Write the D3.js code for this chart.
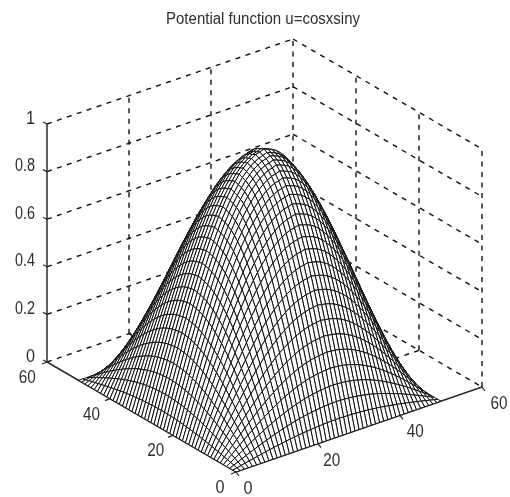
<!DOCTYPE html>
<html>
<head>
<meta charset="utf-8">
<script src="https://cdn.jsdelivr.net/npm/d3@7"></script>
<style>
html,body{margin:0;padding:0;background:#fff;}
svg{display:block;filter:blur(0.5px);}
text{font-family:"Liberation Sans",Arial,sans-serif;fill:#2e2e2e;}
</style>
</head>
<body>
<svg id="chart" width="510" height="497"></svg>
<script>
const titleText = "Potential function u=cosxsiny";
const meshX = [0,1,2,3,4,5,6,7,8,9,10,11,12,13,14,15,16,17,18,19,20,21,22,23,24,25,26,27,28,29,30,31,32,33,34,35,36,37,38,39,40,41,42,43,44,45,46,47,48,49,50];
const meshY = meshX;
// Height profiles along each mesh direction, read from the surface's silhouette.
const profileX = [0,.060,.121,.180,.239,.297,.355,.410,.465,.517,.568,.616,.663,.707,.749,.788,.823,.856,.885,.911,.935,.954,.971,.983,.993,.998,1.005,.998,.991,.981,.966,.947,.924,.897,.866,.831,.793,.752,.707,.659,.609,.556,.500,.442,.383,.321,.259,.195,.131,.065,0];
const profileY = [0,.063,.125,.187,.249,.309,.368,.426,.482,.536,.588,.637,.685,.729,.771,.809,.844,.876,.905,.930,.951,.969,.982,.992,.998,1.005,.998,.992,.982,.969,.951,.930,.905,.876,.844,.809,.771,.729,.685,.637,.588,.536,.482,.426,.368,.309,.249,.187,.125,.063,0];
const xTicks = [0,20,40,60];
const yTicks = [0,20,40,60];
const zTicks = [0,0.2,0.4,0.6,0.8,1];

const svg = d3.select("#chart");

// Oblique axes: each scale gives one axis's on-screen displacement.
const xPx = d3.scaleLinear().domain([0,60]).range([0,246]);
const xPy = d3.scaleLinear().domain([0,60]).range([0,-85]);
const yPx = d3.scaleLinear().domain([0,60]).range([0,-189]);
const yPy = d3.scaleLinear().domain([0,60]).range([0,-110]);
const zPy = d3.scaleLinear().domain([0,1]).range([0,-238]);
const ox = 236, oy = 472;
const proj = (x,y,z) => [ox + xPx(x) + yPx(y), oy + xPy(x) + yPy(y) + zPy(z)];
const line = d3.line();

// Dashed back walls and floor
const grid = svg.append("g").attr("fill","none").attr("stroke","#111")
  .attr("stroke-width",1.4).attr("stroke-dasharray","5 5.5");
const gridLines = [];
zTicks.forEach(z => {
  gridLines.push([proj(0,60,z),proj(60,60,z)]);
  gridLines.push([proj(60,60,z),proj(60,0,z)]);
});
xTicks.slice(1).forEach(x => gridLines.push([proj(x,60,0),proj(x,60,1)]));
yTicks.slice(0,3).forEach(y => gridLines.push([proj(60,y,0),proj(60,y,1)]));
xTicks.slice(1,3).forEach(x => gridLines.push([proj(x,60,0),proj(x,0,0)]));
yTicks.slice(1,3).forEach(y => gridLines.push([proj(60,y,0),proj(0,y,0)]));
grid.selectAll("path").data(gridLines).join("path").attr("d",d=>line(d));

// Solid axes
const axes = svg.append("g").attr("fill","none").attr("stroke","#2a2a2a").attr("stroke-width",1.5);
axes.append("path").attr("d",line([proj(0,60,0),proj(0,60,1)]));
axes.append("path").attr("d",line([proj(0,60,0),proj(0,0,0),proj(60,0,0)]));

// Surface, painted from the far corner forward
const cells = [];
for (let i=meshX.length-2;i>=0;i--) for (let j=meshY.length-2;j>=0;j--) cells.push([i,j]);
cells.sort((a,b)=>(b[0]+b[1])-(a[0]+a[1]));
const u = (i,j) => profileX[i]*profileY[j];
svg.append("g").attr("fill","#fff").attr("stroke","#111").attr("stroke-width",1)
  .selectAll("path").data(cells).join("path")
  .attr("d",([i,j]) => line([
    proj(meshX[i],meshY[j],u(i,j)),
    proj(meshX[i+1],meshY[j],u(i+1,j)),
    proj(meshX[i+1],meshY[j+1],u(i+1,j+1)),
    proj(meshX[i],meshY[j+1],u(i,j+1))
  ])+"Z");

// Ticks
const ticks = svg.append("g").attr("stroke","#2a2a2a").attr("stroke-width",1.2).attr("fill","none");
const tickSegs = [];
zTicks.forEach(z => { const p=proj(0,60,z); tickSegs.push([[p[0]-4,p[1]-2],p]); });
xTicks.forEach(x => { const p=proj(x,0,0); tickSegs.push([p,[p[0]+3,p[1]+4]]); });
yTicks.forEach(y => { const p=proj(0,y,0); tickSegs.push([p,[p[0]-5,p[1]+2]]); });
ticks.selectAll("path").data(tickSegs).join("path").attr("d",d=>line(d));

// Text: glyphs are condensed in the reference, so widths are set explicitly
function label(g, str, x, y, w, size, anchor){
  g.append("text").attr("x",x).attr("y",y).attr("font-size",size)
    .attr("text-anchor",anchor).attr("textLength",w).attr("lengthAdjust","spacingAndGlyphs").text(str);
}
const labels = svg.append("g");
const dw = s => s.length===1 ? 9 : (s.includes(".") ? 20 : 17);
zTicks.forEach(z => {
  const p = proj(0,60,z), s = String(z);
  label(labels,s,p[0]-12,p[1]-0.5,dw(s),17.5,"end");
});
xTicks.forEach(x => {
  const p = proj(x,0,0), s = String(x);
  label(labels,s,p[0]+12+xPx(x)*0.02,p[1]+22,dw(s),17.5,"middle");
});
yTicks.forEach(y => {
  const p = proj(0,y,0), s = String(y);
  label(labels,s,p[0]-16+yPx(y)*0.02,p[1]+21,dw(s),17.5,"middle");
});
label(labels,titleText,263,24,194,16,"middle");
</script>
</body>
</html>
